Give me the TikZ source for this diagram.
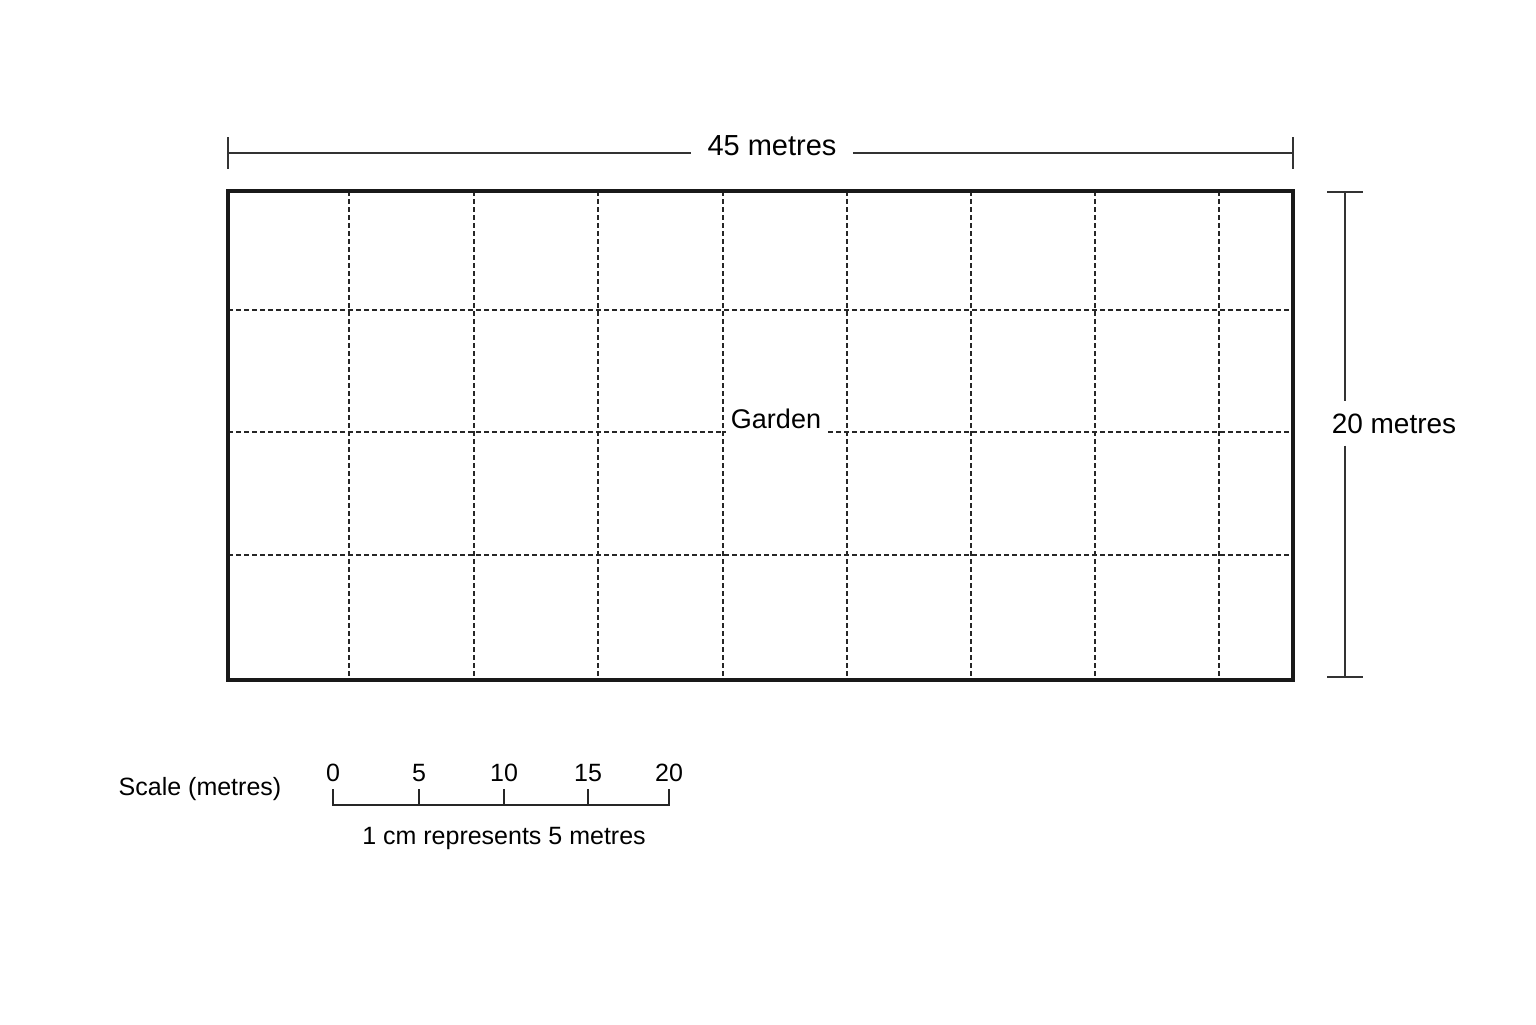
\documentclass[tikz,border=0pt]{standalone}
\usepackage{fontspec}
\setmainfont{Liberation Sans}

\begin{document}
\begin{tikzpicture}[x=0.5pt, y=-0.5pt]
\tikzstyle{border}=[line width=1.6pt, draw=black!90]
\tikzstyle{gridline}=[line width=0.6pt, draw=black!85, dash pattern=on 2.5pt off 1.5pt]
\tikzstyle{dim}=[-, line width=0.8pt, draw=black!80]
\tikzstyle{bar}=[line width=1pt, draw=black!85]
\tikzstyle{lbl}=[anchor=base, inner sep=0pt, font=\fontsize{14}{16}\selectfont]
\tikzstyle{num}=[anchor=base, inner sep=0pt, font=\fontsize{12.5}{14}\selectfont]
\useasboundingbox (0,0) rectangle (1536,1024);

% grid of the garden
\draw[gridline] (349,191) -- (349,680);
\draw[gridline] (474,191) -- (474,680);
\draw[gridline] (598,191) -- (598,680);
\draw[gridline] (723,191) -- (723,680);
\draw[gridline] (847,191) -- (847,680);
\draw[gridline] (971,191) -- (971,680);
\draw[gridline] (1095,191) -- (1095,680);
\draw[gridline] (1219,191) -- (1219,680);
\draw[gridline] (228,310) -- (1293,310);
\draw[gridline] (228,432) -- (1293,432);
\draw[gridline] (228,555) -- (1293,555);
\draw[border] (228,191) rectangle (1293,680);
\node[anchor=base, fill=white, inner xsep=2.5pt, inner ysep=2.5pt, font=\fontsize{13.5}{15}\selectfont] (garden) at (776,428) {Garden};

% 45 metres
\coordinate (tl) at (228,153);
\coordinate (tr) at (1293,153);
\node[lbl, inner xsep=8pt, font=\fontsize{14.5}{16}\selectfont] (w45) at (772,155) {45 metres};
\path (tl) edge [dim] (tl -| w45.west);
\path (tr -| w45.east) edge [dim] (tr);
\draw[dim] (228,137) -- (228,169);
\draw[dim] (1293,137) -- (1293,169);

% 20 metres
\coordinate (rt) at (1345,192);
\coordinate (rb) at (1345,677);
\node[lbl, inner ysep=6pt] (w20) at (1394,433) {20 metres};
\path (rt) edge [dim] (rt |- w20.north);
\path (rb |- w20.south) edge [dim] (rb);
\draw[dim] (1327,192) -- (1363,192);
\draw[dim] (1327,677) -- (1363,677);

% scale
\node[anchor=base, inner sep=0pt, font=\fontsize{12.5}{14}\selectfont] (scl) at (200,795) {Scale (metres)};
\coordinate (s0) at (333,805);
\coordinate (s20) at (669,805);
\draw[bar] (333,789) -- (s0) -- (s20) -- (669,789);
\draw[bar] (419,789) -- (419,805);
\draw[bar] (504,789) -- (504,805);
\draw[bar] (588,789) -- (588,805);
\node[num] (n0) at (333,781) {0};
\node[num] (n5) at (419,781) {5};
\node[num] (n10) at (504,781) {10};
\node[num] (n15) at (588,781) {15};
\node[num] (n20) at (669,781) {20};
\node[anchor=base, inner sep=0pt, font=\fontsize{12.5}{14}\selectfont] (rep) at (504,844) {1 cm represents 5 metres};
\end{tikzpicture}
\end{document}
